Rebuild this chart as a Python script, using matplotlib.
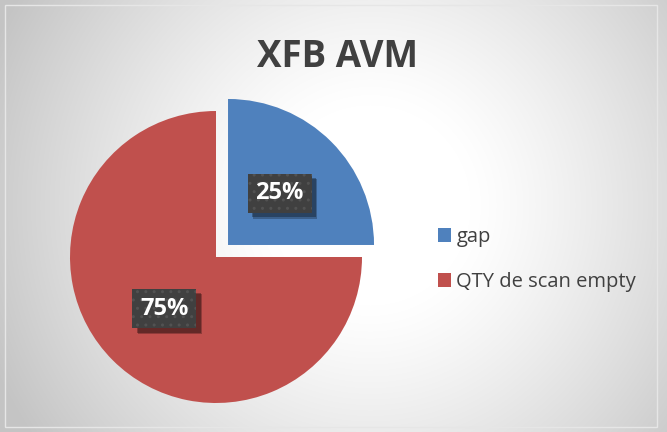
import numpy as np
import matplotlib
matplotlib.use("Agg")
from matplotlib import pyplot as plt
from matplotlib import patheffects
from matplotlib.colors import to_rgb
from matplotlib.patches import Rectangle

title = 'XFB AVM'
labels = ['gap', 'QTY de scan empty']
values = [25, 75]
colors = ['#4f81bd', '#c0504d']


class PlainShadow(patheffects.AbstractPathEffect):
    # drop shadow without the hatch of the patch it belongs to
    def __init__(self, offset=(3, -3), color='black', alpha=0.4):
        super().__init__(offset)
        self._color = color
        self._alpha = alpha

    def draw_path(self, renderer, gc, tpath, affine, rgbFace=None):
        gc0 = renderer.new_gc()
        gc0.copy_properties(gc)
        gc0.set_hatch(None)
        gc0.set_alpha(self._alpha)
        gc0.set_linewidth(0)
        renderer.draw_path(gc0, tpath, affine + self._offset_transform(renderer), to_rgb(self._color))
        gc0.restore()


W, H = 667, 432
fig = plt.figure(figsize=(W / 100, H / 100), dpi=100)

# gray background fading to white towards the middle
yy, xx = np.mgrid[0:H, 0:W]
d = np.hypot(xx - 370, yy - 205)
t = np.clip((d - 100) / 310, 0, 1) ** 1.2
shade = 1 - 0.23 * t
bg = fig.add_axes([0, 0, 1, 1])
bg.imshow(np.dstack([shade] * 3), extent=[0, W, H, 0], aspect='auto', interpolation='bilinear')
bg.set_xlim(0, W)
bg.set_ylim(H, 0)
bg.set_axis_off()
bg.add_patch(Rectangle((5, 5), 652, 422, fill=False, edgecolor='#e6e6e6', linewidth=1))

ax = fig.add_axes([0, 0, 1, 1])
ax.patch.set_alpha(0)
wedges, texts, autotexts = ax.pie(values, colors=colors, startangle=90, counterclock=False,
                                  explode=[17, 0], center=(216, H - 257), radius=146,
                                  autopct='%1.0f%%', pctdistance=0.5,
                                  textprops=dict(color='white', fontsize=17, fontweight='bold',
                                                 family='Open Sans'))
ax.set_xlim(0, W)
ax.set_ylim(0, H)
ax.set_aspect('equal')
ax.set_axis_off()

# dark dotted label boxes with a drop shadow
for txt in autotexts:
    txt.set_bbox(dict(boxstyle='square,pad=0.33', facecolor='#404040', edgecolor='#525252',
                      linewidth=0, hatch='..'))
    txt.get_bbox_patch().set_path_effects([PlainShadow(offset=(4, -4), alpha=0.25),
                                           PlainShadow(offset=(3, -3), alpha=0.3),
                                           patheffects.Normal()])

handles = [Rectangle((0, 0), 1, 1, facecolor=c) for c in colors]
leg = ax.legend(handles, labels, loc='upper left', bbox_to_anchor=(438 / W, 1 - 227 / H),
                bbox_transform=fig.transFigure, frameon=False,
                prop=dict(family='Open Sans', size=14.5), handlelength=0.66, handleheight=0.66,
                handletextpad=0.25, labelspacing=1.25, borderpad=0, borderaxespad=0)
for txt in leg.get_texts():
    txt.set_color('#404040')

fig.text(337 / W, 1 - 57 / H, title, ha='center', va='center', fontsize=26.5, fontweight='bold',
         color='#404040', family='Open Sans')

fig.savefig('out.png', dpi=100)
